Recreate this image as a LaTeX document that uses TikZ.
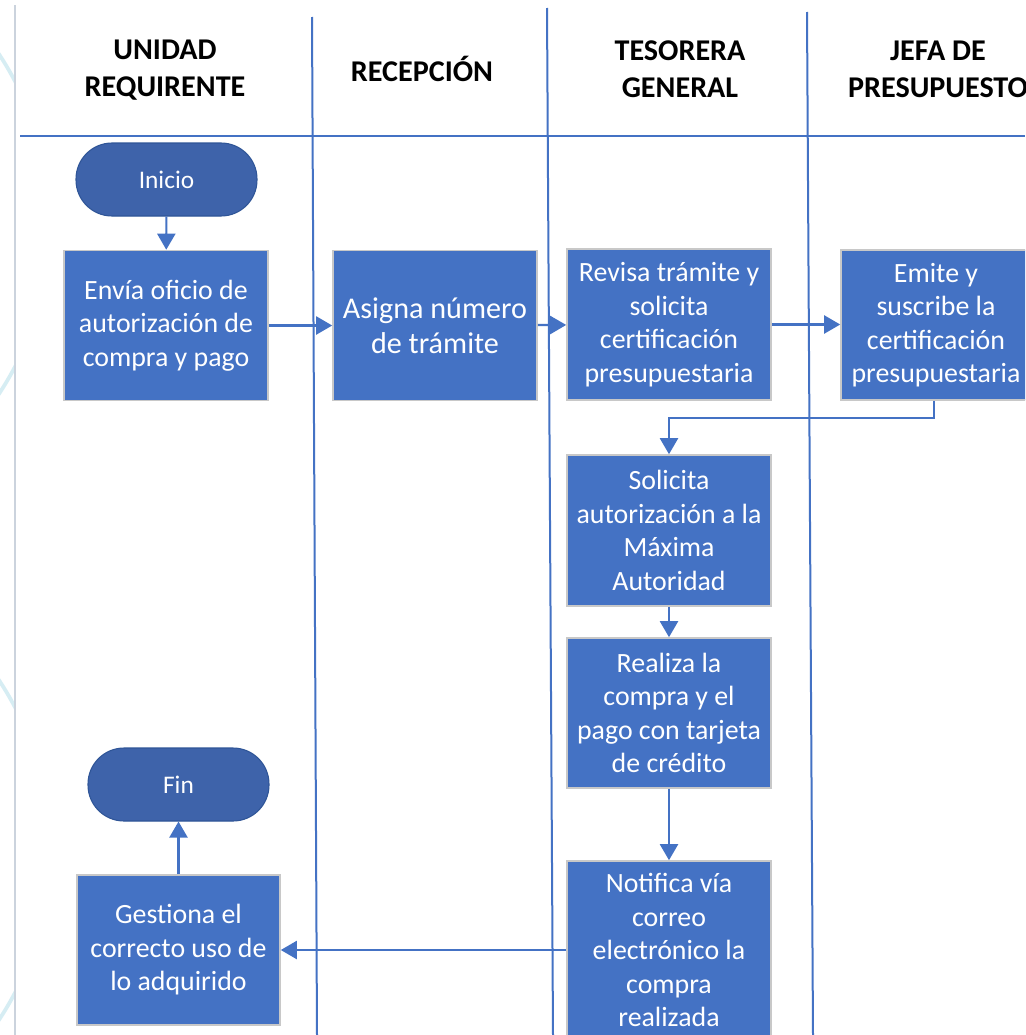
\documentclass[tikz,border=0pt]{standalone}
\usepackage{fontspec}
\setmainfont{Carlito}
\usetikzlibrary{arrows.meta}
\definecolor{boxblue}{HTML}{4472C4}
\definecolor{termblue}{HTML}{3E63AA}
\definecolor{termedge}{HTML}{2F5597}
\definecolor{boxedge}{HTML}{C8C8C8}
\definecolor{lanecol}{HTML}{4472C4}
\definecolor{edgegrey}{HTML}{CBD3DD}
\definecolor{arccol}{HTML}{D6EDF3}
\tikzset{
  stepbox/.style={rectangle, fill=boxblue, draw=boxedge, line width=1.2pt, text=white,
    align=center, inner sep=0pt, minimum width=153pt, minimum height=112.5pt,
    font=\fontsize{20.9pt}{25.1pt}\selectfont},
  termbox/.style={rectangle, rounded corners=27pt, fill=termblue, draw=termedge, line width=0.8pt,
    text=white, align=center, inner sep=0pt, minimum width=135.75pt, minimum height=54.75pt,
    font=\fontsize{19pt}{23pt}\selectfont},
  head/.style={align=center, inner sep=0pt, text=black,
    font=\bfseries\fontsize{22.6pt}{27.75pt}\selectfont},
  lane/.style={draw=lanecol, line width=1.5pt},
  arr/.style={draw=lanecol, line width=1.6pt, -{Triangle[width=13.5pt,length=12pt]}}
}
\begin{document}
\begin{tikzpicture}[x=0.75pt, y=-0.75pt]
\useasboundingbox (0,0) rectangle (1025,1035);
\clip (0,0) rectangle (1025,1035);
\fill[white] (0,0) rectangle (1025,1035);
% faint decorative arcs at left edge
\begin{scope}
  \clip (0,0) rectangle (15,1035);
  \draw[arccol, line width=2.8pt] (-258,224) circle (308);
  \draw[arccol, line width=2.8pt] (-258,850) circle (308);
\end{scope}
\draw[edgegrey, line width=1.2pt] (15,5) -- (15,1035);
% swimlane lines
\draw[lane] (20,136) -- (1025,136);
\draw[lane] (312,17) -- (317,1035);
\draw[lane] (547,8) -- (553,1035);
\draw[lane] (807,12) -- (813,1035);
% headers
\node[head] (h1) at (165,70.5) {UNIDAD\\REQUIRENTE};
\node[head] (h2) at (422,69) {RECEPCIÓN};
\node[head] (h3) at (680,69.5) {TESORERA\\GENERAL};
\node[head] (h4) at (938,69.5) {JEFA DE\\PRESUPUESTO};
% nodes
\node[termbox] (inicio) at (166.5,179.5) {Inicio};
\node[stepbox] (envia) at (166,325.5) {Envía oficio de\\autorización de\\compra y pago};
\node[stepbox, font=\fontsize{22.6pt}{26.5pt}\selectfont] (asigna) at (435,325.5) {Asigna número\\de trámite};
\node[stepbox, minimum height=113.25pt] (revisa) at (669,324.5) {Revisa trámite y\\solicita\\certificación\\presupuestaria};
\node[stepbox, minimum width=142.5pt] (emite) at (936,325) {Emite y\\suscribe la\\certificación\\presupuestaria};
\node[stepbox, minimum height=113.25pt] (solicita) at (669,530.5) {Solicita\\autorización a la\\Máxima\\Autoridad};
\node[stepbox] (realiza) at (669,713) {Realiza la\\compra y el\\pago con tarjeta\\de crédito};
\node[stepbox, minimum height=133.5pt] (notifica) at (669,950) {Notifica vía\\correo\\electrónico la\\compra\\realizada};
\node[stepbox, minimum width=152.25pt] (gestiona) at (178.5,950) {Gestiona el\\correcto uso de\\lo adquirido};
\node[termbox] (fin) at (178.5,784.5) {Fin};
% connectors
\draw[arr] (inicio) -- (envia);
\draw[arr] (envia) -- (asigna);
\draw[arr] (asigna) -- (revisa);
\draw[arr] (revisa.east) -- (emite.west |- revisa.east);
\draw[arr] ([xshift=-1.5pt]emite.south) -- ++(0,17) -| (solicita.north);
\draw[arr] (solicita) -- (realiza);
\draw[arr] (realiza) -- (notifica);
\draw[arr] (notifica) -- (gestiona);
\draw[arr] (gestiona) -- (fin);
\end{tikzpicture}
\end{document}
